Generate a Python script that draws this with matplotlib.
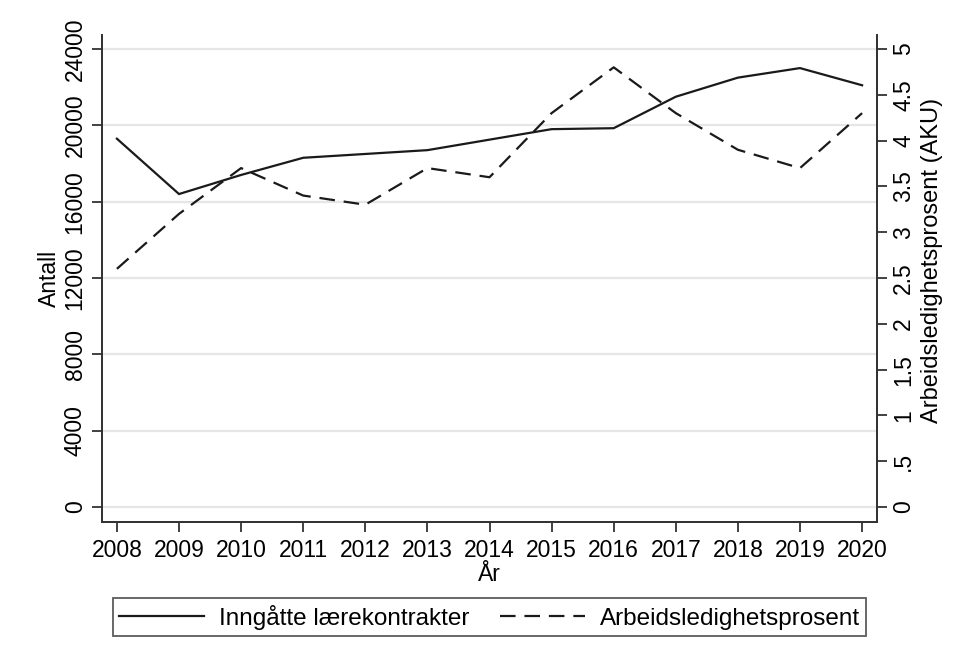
import matplotlib
matplotlib.use("Agg")
import matplotlib.pyplot as plt
from matplotlib.lines import Line2D

years = [2008, 2009, 2010, 2011, 2012, 2013, 2014, 2015, 2016, 2017, 2018, 2019, 2020]
kontrakter = [19300, 16400, 17400, 18300, 18500, 18700, 19250, 19800, 19850, 21500, 22500, 23000, 22100]
ledighet = [2.6, 3.2, 3.7, 3.4, 3.3, 3.7, 3.6, 4.3, 4.8, 4.3, 3.9, 3.7, 4.3]

left_ticks = [0, 4000, 8000, 12000, 16000, 20000, 24000]
right_ticks = [0, 0.5, 1, 1.5, 2, 2.5, 3, 3.5, 4, 4.5, 5]
right_labels = ["0", ".5", "1", "1.5", "2", "2.5", "3", "3.5", "4", "4.5", "5"]

plt.rcParams['font.family'] = ['Liberation Sans', 'DejaVu Sans']
FS = 16.5

fig = plt.figure(figsize=(9.57, 6.57), dpi=100)
ax = fig.add_axes([102/957, 1 - 522/657, 775/957, 487/657])
ax2 = ax.twinx()

ax.set_xlim(2007.76, 2020.24)
ax.set_ylim(-786, 24734)
ax2.set_ylim(-0.164, 5.153)

for v in left_ticks:
    ax.axhline(v, color='#e6e6e6', lw=1.6, zorder=0)

l1, = ax.plot(years, kontrakter, color='#1a1a1a', lw=1.6, solid_joinstyle='miter')
l2, = ax2.plot(years, ledighet, color='#1a1a1a', lw=1.6, dashes=(7, 4))

ax.set_xticks(years)
ax.set_xticklabels([str(y) for y in years], fontsize=FS)
ax.set_yticks(left_ticks)
ax.set_yticklabels([str(v) for v in left_ticks], fontsize=FS, rotation=90, va='center')
ax2.set_yticks(right_ticks)
ax2.set_yticklabels(right_labels, fontsize=FS, rotation=90, va='center')

for a in (ax, ax2):
    a.spines['top'].set_visible(False)
    for s in a.spines.values():
        s.set_color('#333333')
        s.set_linewidth(1.3)
    a.tick_params(length=7, width=1.3, color='#333333', pad=4)
ax.tick_params(axis='x', pad=5)

ax.set_xlabel('År', fontsize=FS, labelpad=1)
ax.set_ylabel('Antall', fontsize=FS, labelpad=2)
ax2.set_ylabel('Arbeidsledighetsprosent (AKU)', fontsize=17, labelpad=4)
ax2.yaxis.label.set_y(0.538)

LFS = 17.5
handles = [Line2D([], [], color='#1a1a1a', lw=1.6),
           Line2D([], [], color='#1a1a1a', lw=1.6, dashes=(7, 4))]
leg = fig.legend(handles, ['Inngåtte lærekontrakter', 'Arbeidsledighetsprosent'],
                 loc='center', bbox_to_anchor=(489.5/957, 1 - 617/657),
                 ncol=2, fontsize=LFS, frameon=True, fancybox=False,
                 edgecolor='#333333', handlelength=3.5, handletextpad=0.6,
                 columnspacing=1.25, borderaxespad=0, borderpad=0.25)
leg.get_frame().set_linewidth(1.3)

fig.savefig('out.png', dpi=100, facecolor='white')
